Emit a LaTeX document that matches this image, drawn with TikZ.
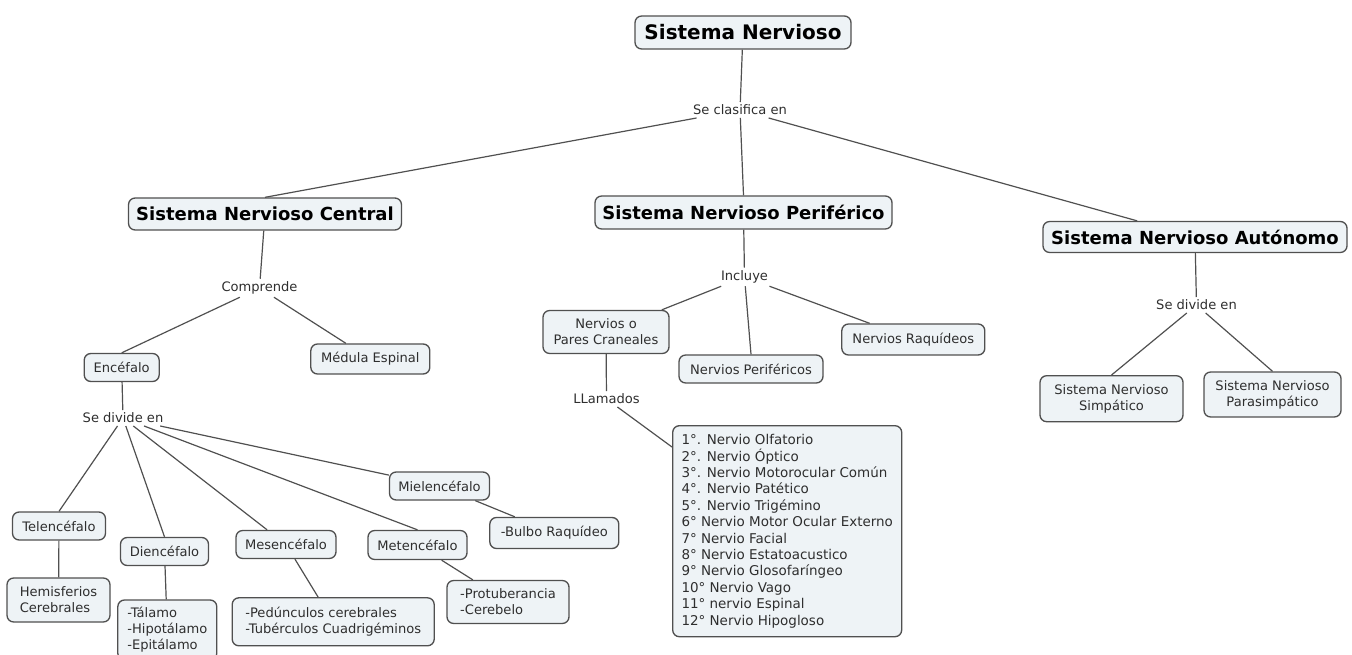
\documentclass[tikz,border=0pt]{standalone}
\usepackage{fontspec}
\setmainfont{DejaVu Sans}
\definecolor{boxfill}{HTML}{EEF3F6}
\definecolor{boxline}{HTML}{505050}
\definecolor{txt}{HTML}{2E2E2E}
\tikzset{
  cbox/.style={draw=boxline, fill=boxfill, line width=1pt, rounded corners=5pt,
    text=txt, inner sep=0pt, font=\fontsize{9.8}{12}\selectfont},
  wh/.style 2 args={minimum width=0.75*#1pt, minimum height=0.75*#2pt},
  headbox/.style={cbox, text=black, font=\fontsize{13.5}{16}\selectfont\bfseries},
  linkword/.style={text=txt, inner sep=2pt, font=\fontsize{9.8}{12}\selectfont},
  conn/.style={draw=boxline, line width=0.9pt},
}
\begin{document}
\begin{tikzpicture}[x=0.75pt, y=-0.75pt]
    \useasboundingbox (0,0) rectangle (1352,655);
    % top level
    \node[headbox, wh={216}{33}, font=\fontsize{15}{18}\selectfont\bfseries] (sn) at (743,32.5) {Sistema Nervioso};
    \node[linkword] (clasif) at (740,110) {Se clasifica en};
    \node[headbox, wh={273}{32}] (snc) at (265,214) {Sistema Nervioso Central};
    \node[headbox, wh={297}{33}] (snp) at (743.5,212.5) {Sistema Nervioso Periférico};
    \node[headbox, wh={304}{31}] (sna) at (1195,237) {Sistema Nervioso Autónomo};
    % central
    \node[linkword] (compr) at (259.5,288) {Comprende};
    \node[cbox, wh={75}{28}] (encef) at (121.7,367.5) {Encéfalo};
    \node[cbox, wh={119}{30}] (medula) at (370.3,359) {Médula Espinal};
    \node[linkword] (divenc) at (123,418) {Se divide en};
    \node[cbox, wh={93}{28}] (telen) at (59,526) {Telencéfalo};
    \node[cbox, wh={88}{28}] (dien) at (164.5,551.5) {Diencéfalo};
    \node[cbox, wh={100}{28}] (mesen) at (286,544.5) {Mesencéfalo};
    \node[cbox, wh={99}{29}] (meten) at (417.5,545) {Metencéfalo};
    \node[cbox, wh={100}{28}] (mielen) at (439.5,486) {Mielencéfalo};
    \node[cbox, wh={129}{31}] (bulbo) at (554.3,533) {-Bulbo Raquídeo};
    \node[cbox, wh={103}{44}, align=left] (hemis) at (58.5,600) {Hemisferios\\Cerebrales};
    \node[cbox, wh={99}{60}, align=left] (talamo) at (167.3,630) {-Tálamo\\-Hipotálamo\\-Epitálamo};
    \node[cbox, wh={202}{48}, align=left] (pedunc) at (333.2,621.8) {-Pedúnculos cerebrales\\-Tubérculos Cuadrigéminos};
    \node[cbox, wh={122}{43}, align=left] (protub) at (508,602) {-Protuberancia\\-Cerebelo};
    % periferico
    \node[linkword] (incl) at (744.5,277) {Incluye};
    \node[cbox, wh={126}{43}, align=center] (pares) at (606,332) {Nervios o\\Pares Craneales};
    \node[cbox, wh={144}{28}] (perif) at (751,369) {Nervios Periféricos};
    \node[cbox, wh={143}{31}] (raquid) at (913.3,339.5) {Nervios Raquídeos};
    \node[linkword] (llam) at (606.5,399) {LLamados};
    \node[cbox, wh={229}{211}, align=left, font=\fontsize{10.1}{12.3}\selectfont] (lista) at (787.2,531.2)
      {1°. Nervio Olfatorio\\2°. Nervio Óptico\\3°. Nervio Motorocular Común\\4°. Nervio Patético\\
       5°. Nervio Trigémino\\6° Nervio Motor Ocular Externo\\7° Nervio Facial\\8° Nervio Estatoacustico\\
       9° Nervio Glosofaríngeo\\10° Nervio Vago\\11° nervio Espinal\\12° Nervio Hipogloso};
    % autonomo
    \node[linkword] (divaut) at (1196.5,305) {Se divide en};
    \node[cbox, wh={143}{46}, align=center] (simp) at (1111.5,398.7) {Sistema Nervioso\\Simpático};
    \node[cbox, wh={137}{45}, align=center] (parasimp) at (1272.5,394.5) {Sistema Nervioso\\Parasimpático};

    % connectors
    \draw[conn] (sn) -- (clasif);
    \draw[conn] (clasif) -- (snc.north);
    \draw[conn] (clasif) -- (snp.north);
    \draw[conn] (clasif) -- (sna);
    \draw[conn] (snc) -- (compr);
    \draw[conn] (compr) -- (encef.north);
    \draw[conn] (compr) -- (medula);
    \draw[conn] (encef) -- (divenc);
    \foreach \b in {telen.north, dien.north, mesen, meten.north, mielen} {
      \draw[conn] (divenc) -- (\b);
    }
    \foreach \a/\b in {telen/hemis, dien/talamo, mesen/pedunc, meten/protub, mielen/bulbo} {
      \draw[conn] (\a) -- (\b);
    }
    \draw[conn] (snp) -- (incl);
    \draw[conn] (incl) -- (pares);
    \draw[conn] (incl) -- (perif.north);
    \draw[conn] (incl) -- (raquid);
    \draw[conn] (pares) -- (llam);
    \draw[conn] (llam) -- (lista);
    \draw[conn] (sna) -- (divaut);
    \draw[conn] (divaut) -- (simp.north);
    \draw[conn] (divaut) -- (parasimp.north);
  \end{tikzpicture}
\end{document}
